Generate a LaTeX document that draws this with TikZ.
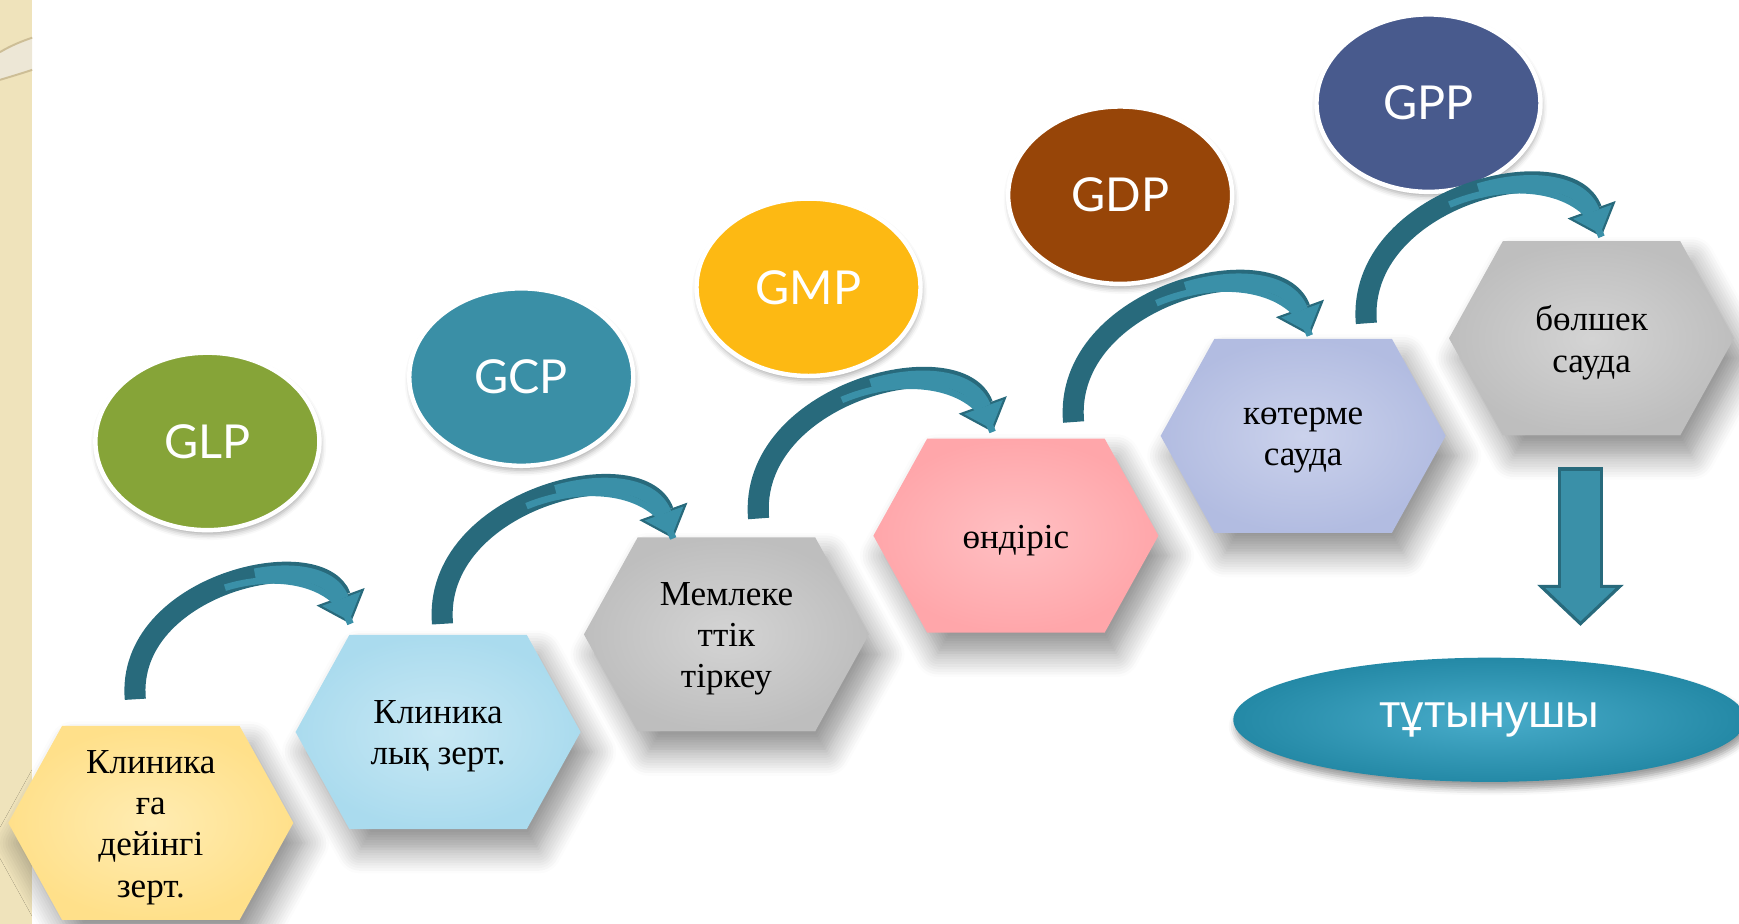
\documentclass[tikz,border=0pt]{standalone}
\usepackage{fontspec}
\setmainfont{Liberation Serif}
\newfontfamily\glabelfont{Lato}
\newfontfamily\consfont{Liberation Sans}
\usetikzlibrary{shapes.geometric, positioning, calc, arrows.meta, shadows.blur}

\definecolor{stripbeige}{RGB}{239,227,187}
\definecolor{stripline}{RGB}{205,190,150}
\definecolor{stripband}{RGB}{237,231,214}
\definecolor{glpgreen}{RGB}{134,164,56}
\definecolor{gcpteal}{RGB}{58,143,166}
\definecolor{gmpgold}{RGB}{253,185,19}
\definecolor{gdpbrown}{RGB}{151,69,8}
\definecolor{gppblue}{RGB}{72,90,141}
\definecolor{arrdark}{RGB}{40,106,124}
\definecolor{arrlight}{RGB}{58,144,168}
\definecolor{consout}{RGB}{36,137,166}
\definecolor{consin}{RGB}{72,172,202}
\definecolor{hyelout}{RGB}{255,224,138}
\definecolor{hyelin}{RGB}{255,236,178}
\definecolor{hblueout}{RGB}{170,219,238}
\definecolor{hbluein}{RGB}{200,232,244}
\definecolor{hgrayout}{RGB}{190,190,190}
\definecolor{hgrayin}{RGB}{212,212,212}
\definecolor{hpinkout}{RGB}{255,166,170}
\definecolor{hpinkin}{RGB}{255,192,195}
\definecolor{hlilacout}{RGB}{178,188,225}
\definecolor{hlilacin}{RGB}{203,210,236}

\tikzset{
	hexa/.style={rectangle, minimum width=2.57cm, minimum height=1.75cm, inner sep=0pt, outer sep=0pt},
	hexfill/.style={blur shadow={shadow xshift=0.1cm, shadow yshift=-0.18cm, shadow blur radius=0.22cm, shadow opacity=45, shadow blur steps=10}},
	hexlabel/.style={align=center, inner sep=0pt, yshift=-0.04cm, font=\fontsize{9}{10.6}\selectfont},
	gball/.style={ellipse, minimum width=2.02cm, minimum height=1.6cm, draw=white, line width=0.04cm,
		text=white, font=\glabelfont\fontsize{12}{14}\selectfont,
		blur shadow={shadow xshift=0.01cm, shadow yshift=-0.04cm, shadow blur radius=0.05cm, shadow opacity=35}},
	bendarrow/.style={draw=arrdark, line width=1.9mm, -{Triangle[width=4.6mm, length=2.6mm, line width=0.3pt]},
		postaction={draw=arrlight, arrows=-, line width=0.6mm, dash pattern=on 5cm off 1.4cm on 3cm, dash phase=5cm},
		postaction={draw=arrlight, line width=1.35mm, shorten >=0.3mm, dash pattern=on 5cm off 1.7cm on 3cm, dash phase=5cm,
			-{Triangle[width=3.7mm, length=2.1mm, line width=0.3pt]}}},
	downarr/.style={draw=arrdark, line width=4.1mm, -{Triangle[width=7.8mm, length=3.7mm, line width=0.3pt]},
		postaction={draw=arrlight, line width=3.5mm, shorten <=0.35mm, shorten >=0.41mm,
			-{Triangle[width=6.3mm, length=3.0mm, line width=0.3pt]}}},
	consell/.style={ellipse, minimum width=4.62cm, minimum height=1.12cm, inner color=consin, outer color=consout,
		text=white, font=\consfont\fontsize{12}{14}\selectfont,
		blur shadow={shadow xshift=0.02cm, shadow yshift=-0.06cm, shadow blur radius=0.06cm, shadow opacity=40}}
}

\begin{document}
\begin{tikzpicture}
	\useasboundingbox (0,0) rectangle (15.68,8.33);
	%strip on the left
	\fill[stripbeige] (0,0) rectangle (0.29,8.33);
	\fill[stripband] (0,7.86) .. controls (0.1,7.92) and (0.2,7.96) .. (0.29,7.99) -- (0.29,7.70) .. controls (0.2,7.67) and (0.1,7.64) .. (0,7.61) -- cycle;
	\draw[stripline, line width=0.5pt] (0,7.86) .. controls (0.1,7.92) and (0.2,7.96) .. (0.29,7.99);
	\draw[stripline, line width=0.5pt] (0,7.61) .. controls (0.1,7.64) and (0.2,7.67) .. (0.29,7.70);

	%hexagon steps, one step up each
	\node[hexa] (hone) at (1.36,0.91) {};
	\node[hexa] (htwo) at (3.95,1.73) {};
	\node[hexa] (hthree) at (6.55,2.61) {};
	\node[hexa] (hfour) at (9.16,3.50) {};
	\node[hexa] (hfive) at (11.75,4.40) {};
	\node[hexa] (hsix) at (14.35,5.28) {};
	\foreach \h/\ci/\co in {hone/hyelin/hyelout, htwo/hbluein/hblueout, hthree/hgrayin/hgrayout,
			hfour/hpinkin/hpinkout, hfive/hlilacin/hlilacout, hsix/hgrayin/hgrayout}
		\path[hexfill, inner color=\ci, outer color=\co] (\h.west) -- ([xshift=0.485cm]\h.north west)
			-- ([xshift=-0.485cm]\h.north east) -- (\h.east) -- ([xshift=-0.485cm]\h.south east)
			-- ([xshift=0.485cm]\h.south west) -- cycle;
	\node[hexlabel] (tone) at (hone) {Клиника\\ға\\дейінгі\\зерт.};
	\node[hexlabel] (ttwo) at (htwo) {Клиника\\лық зерт.};
	\node[hexlabel] (tthree) at (hthree) {Мемлеке\\ттік\\тіркеу};
	\node[hexlabel] (tfour) at (hfour) {өндіріс};
	\node[hexlabel] (tfive) at (hfive) {көтерме\\сауда};
	\node[hexlabel] (tsix) at (hsix) {бөлшек\\сауда};

	%practice labels
	\node[gball, fill=glpgreen] (glp) at (1.87,4.35) {GLP};
	\node[gball, fill=gcpteal] (gcp) at (4.70,4.93) {GCP};
	\node[gball, fill=gmpgold] (gmp) at (7.29,5.74) {GMP};
	\node[gball, fill=gdpbrown] (gdp) at (10.10,6.57) {GDP};
	\node[gball, fill=gppblue] (gpp) at (12.88,7.40) {GPP};

	%consumer
	\node[consell] (cons) at (13.43,1.84) {тұтынушы};

	%bent arrows between the steps
	\draw[bendarrow] ([shift={(-0.14,0.24)}]hone.north) to[out=95,in=110,out looseness=1.3,in looseness=1] ([shift={(-0.79,0.10)}]htwo.north);
	\draw[bendarrow] ([shift={(0.04,0.10)}]htwo.north) to[out=95,in=110,out looseness=1.3,in looseness=1] ([shift={(-0.48,-0.01)}]hthree.north);
	\draw[bendarrow] ([shift={(0.29,0.17)}]hthree.north) to[out=95,in=110,out looseness=1.3,in looseness=1] ([shift={(-0.21,0.06)}]hfour.north);
	\draw[bendarrow] ([shift={(0.52,0.15)}]hfour.north) to[out=95,in=110,out looseness=1.3,in looseness=1] ([shift={(0.06,0.03)}]hfive.north);
	\draw[bendarrow] ([shift={(0.57,0.14)}]hfive.north) to[out=95,in=110,out looseness=1.3,in looseness=1] ([shift={(0.09,0.04)}]hsix.north);

	%down to the consumer
	\draw[downarr] ([shift={(-0.10,-0.29)}]hsix.south) -- ($(hsix.south |- cons.north)+(-0.10,0.28)$);
\end{tikzpicture}
\end{document}
